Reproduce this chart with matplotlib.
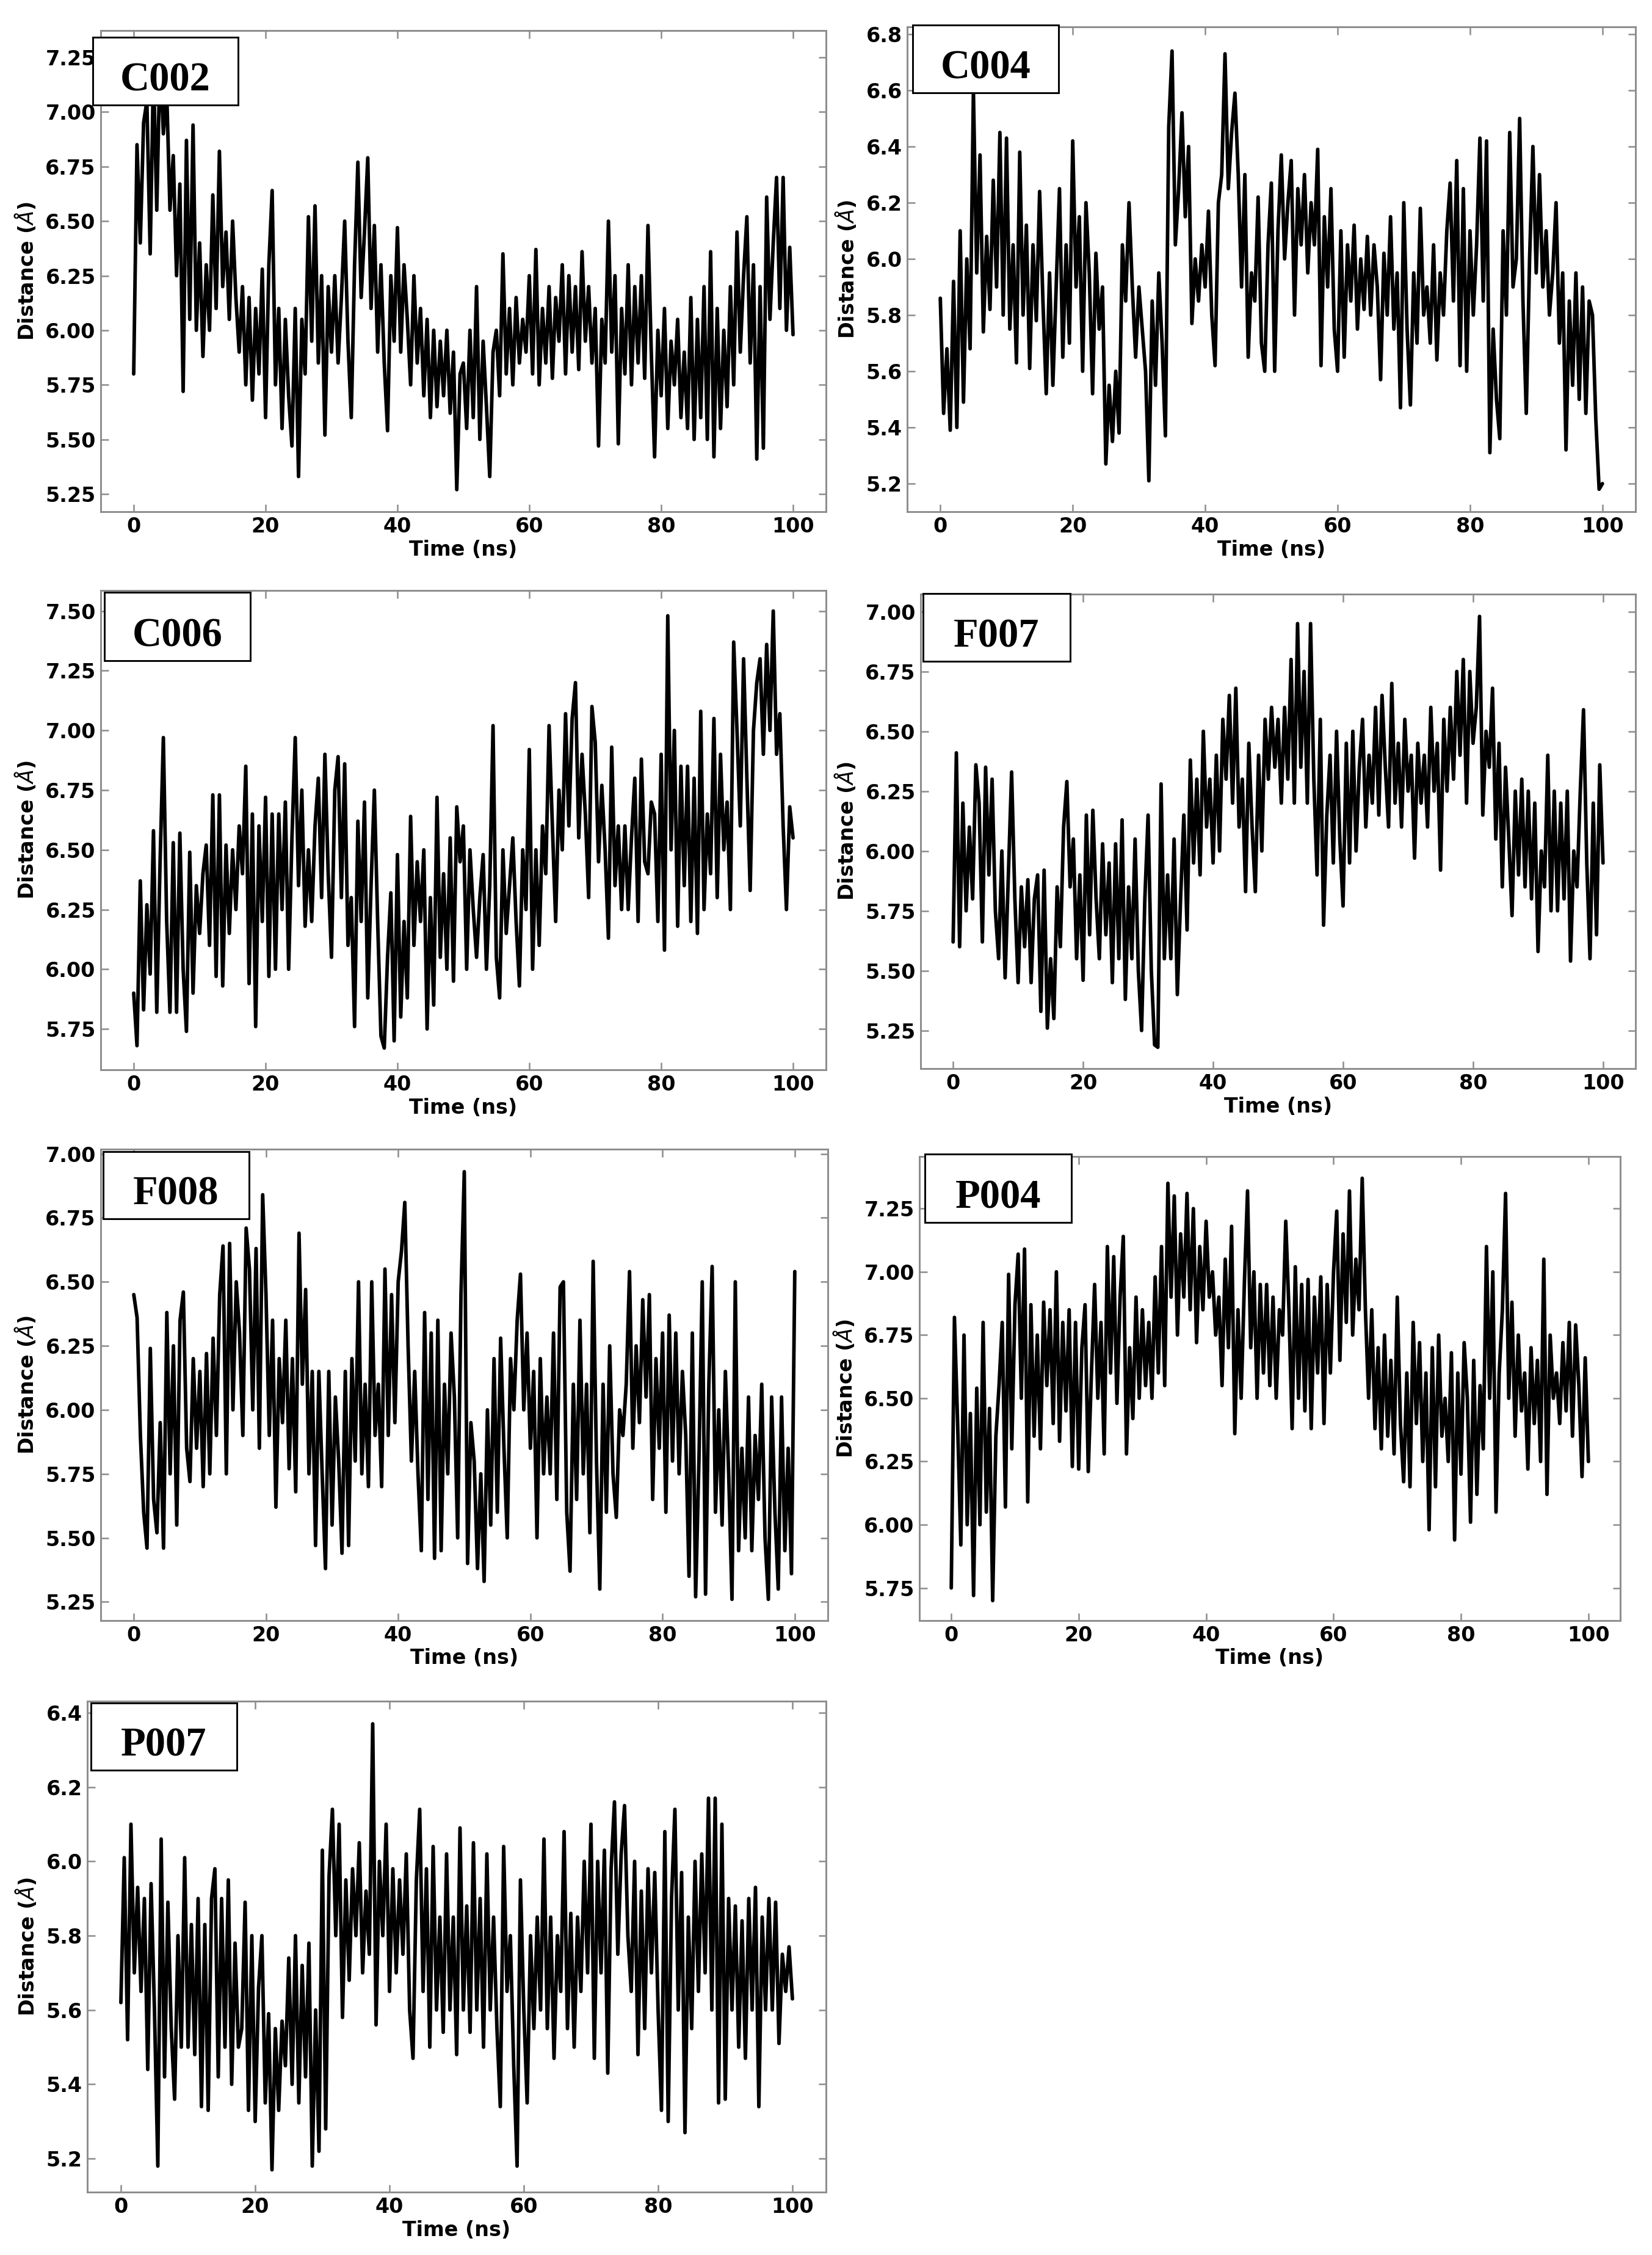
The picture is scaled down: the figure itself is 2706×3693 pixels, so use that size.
import numpy as np
import matplotlib.pyplot as plt
from matplotlib.patches import Rectangle
from matplotlib.ticker import MultipleLocator, FormatStrFormatter

# Distance (Angstrom) traces, one value every 0.5 ns from 0 to 100 ns
panel_names = ["C002", "C004", "C006", "F007", "F008", "P004", "P007"]

c002_distance = [
    5.80, 6.85, 6.40, 6.95, 7.05, 6.35, 7.20, 6.55, 7.27, 6.90, 7.10, 6.55, 6.80, 6.25, 6.67, 5.72, 6.87, 6.05, 6.94, 6.00,
    6.40, 5.88, 6.30, 6.00, 6.62, 6.10, 6.82, 6.20, 6.45, 6.05, 6.50, 6.15, 5.90, 6.20, 5.75, 6.15, 5.68, 6.10, 5.80, 6.28,
    5.60, 6.30, 6.64, 5.75, 6.10, 5.55, 6.05, 5.70, 5.47, 6.10, 5.33, 6.05, 5.80, 6.52, 5.95, 6.57, 5.85, 6.25, 5.52, 6.20,
    5.90, 6.25, 5.85, 6.15, 6.50, 5.95, 5.60, 6.30, 6.77, 6.15, 6.45, 6.79, 6.10, 6.48, 5.90, 6.30, 5.85, 5.54, 6.25, 5.95,
    6.47, 5.90, 6.30, 6.05, 5.75, 6.25, 5.85, 6.10, 5.70, 6.05, 5.60, 6.00, 5.65, 5.95, 5.70, 6.00, 5.62, 5.90, 5.27, 5.80,
    5.85, 5.55, 6.00, 5.60, 6.20, 5.50, 5.95, 5.65, 5.33, 5.90, 6.00, 5.70, 6.35, 5.80, 6.10, 5.75, 6.15, 5.85, 6.05, 5.90,
    6.25, 5.80, 6.37, 5.75, 6.10, 5.85, 6.20, 5.78, 6.15, 5.95, 6.30, 5.80, 6.25, 5.90, 6.20, 5.82, 6.36, 5.95, 6.20, 5.85,
    6.10, 5.47, 6.05, 5.85, 6.50, 5.90, 6.25, 5.48, 6.10, 5.80, 6.30, 5.75, 6.20, 5.85, 6.25, 5.78, 6.48, 5.90, 5.42, 6.00,
    5.70, 6.10, 5.55, 5.95, 5.75, 6.05, 5.60, 5.90, 5.55, 6.15, 5.50, 6.05, 5.60, 6.20, 5.50, 6.36, 5.42, 6.10, 5.55, 6.00,
    5.65, 6.20, 5.75, 6.45, 5.90, 6.25, 6.52, 5.85, 6.30, 5.41, 6.20, 5.46, 6.61, 6.05, 6.40, 6.70, 6.10, 6.70, 6.00, 6.38,
    5.98,
]

c004_distance = [
    5.86, 5.45, 5.68, 5.39, 5.92, 5.40, 6.10, 5.49, 6.00, 5.68, 6.60, 5.95, 6.37, 5.74, 6.08, 5.82, 6.28, 5.90, 6.45, 5.80,
    6.43, 5.75, 6.05, 5.63, 6.38, 5.80, 6.12, 5.61, 6.05, 5.78, 6.24, 5.85, 5.52, 5.95, 5.55, 5.90, 6.25, 5.65, 6.05, 5.70,
    6.42, 5.90, 6.15, 5.60, 6.20, 5.95, 5.52, 6.02, 5.75, 5.90, 5.27, 5.55, 5.35, 5.60, 5.38, 6.05, 5.85, 6.20, 5.90, 5.65,
    5.90, 5.75, 5.60, 5.21, 5.85, 5.55, 5.95, 5.70, 5.37, 6.47, 6.74, 6.05, 6.25, 6.52, 6.15, 6.40, 5.77, 6.00, 5.85, 6.05,
    5.90, 6.17, 5.80, 5.62, 6.20, 6.30, 6.73, 6.25, 6.45, 6.59, 6.30, 5.90, 6.30, 5.65, 5.95, 5.85, 6.22, 5.70, 5.60, 6.05,
    6.27, 5.60, 6.10, 6.37, 6.00, 6.20, 6.35, 5.80, 6.25, 6.05, 6.30, 5.95, 6.20, 6.05, 6.39, 5.62, 6.15, 5.90, 6.25, 5.75,
    5.60, 6.10, 5.65, 6.05, 5.85, 6.12, 5.75, 6.00, 5.82, 6.08, 5.80, 6.05, 5.90, 5.57, 6.02, 5.80, 6.15, 5.75, 5.95, 5.47,
    6.20, 5.75, 5.48, 5.95, 5.70, 6.18, 5.80, 5.90, 5.70, 6.05, 5.64, 5.95, 5.80, 6.10, 6.27, 5.85, 6.35, 5.62, 6.25, 5.60,
    6.10, 5.80, 6.05, 6.43, 5.85, 6.42, 5.31, 5.75, 5.50, 5.36, 6.10, 5.80, 6.45, 5.90, 6.00, 6.50, 5.85, 5.45, 6.00, 6.40,
    5.95, 6.30, 5.90, 6.10, 5.80, 5.95, 6.20, 5.70, 5.95, 5.32, 5.85, 5.55, 5.95, 5.50, 5.90, 5.45, 5.85, 5.80, 5.43, 5.18,
    5.20,
]

c006_distance = [
    5.90, 5.68, 6.37, 5.83, 6.27, 5.98, 6.58, 5.82, 6.45, 6.97, 6.20, 5.82, 6.53, 5.82, 6.57, 6.00, 5.74, 6.49, 5.90, 6.35,
    6.15, 6.40, 6.52, 6.10, 6.73, 5.97, 6.73, 5.93, 6.52, 6.15, 6.50, 6.25, 6.60, 6.40, 6.85, 5.94, 6.65, 5.76, 6.60, 6.20,
    6.72, 5.97, 6.65, 6.00, 6.65, 6.25, 6.70, 6.00, 6.55, 6.97, 6.35, 6.75, 6.18, 6.50, 6.20, 6.60, 6.80, 6.30, 6.90, 6.40,
    6.05, 6.75, 6.89, 6.30, 6.86, 6.10, 6.30, 5.76, 6.62, 6.20, 6.70, 5.88, 6.35, 6.75, 6.20, 5.72, 5.67, 6.05, 6.32, 5.70,
    6.48, 5.80, 6.20, 5.88, 6.64, 6.10, 6.45, 6.20, 6.50, 5.75, 6.30, 5.85, 6.72, 6.05, 6.40, 6.00, 6.55, 5.95, 6.68, 6.45,
    6.60, 6.00, 6.50, 6.25, 6.05, 6.30, 6.48, 6.00, 6.35, 7.02, 6.05, 5.88, 6.50, 6.15, 6.35, 6.55, 6.20, 5.93, 6.50, 6.25,
    6.92, 6.00, 6.50, 6.10, 6.60, 6.40, 7.02, 6.60, 6.20, 6.75, 6.50, 7.07, 6.60, 7.05, 7.20, 6.55, 6.90, 6.65, 6.30, 7.10,
    6.95, 6.45, 6.77, 6.50, 6.13, 6.93, 6.35, 6.60, 6.25, 6.60, 6.25, 6.55, 6.80, 6.20, 6.88, 6.45, 6.40, 6.70, 6.65, 6.20,
    6.90, 6.08, 7.48, 6.50, 7.00, 6.18, 6.85, 6.35, 6.85, 6.20, 6.80, 6.15, 7.08, 6.25, 6.65, 6.40, 7.05, 6.30, 6.90, 6.50,
    6.70, 6.25, 7.37, 7.00, 6.60, 7.30, 6.80, 6.33, 7.00, 7.20, 7.30, 6.90, 7.36, 7.00, 7.50, 6.90, 7.07, 6.60, 6.25, 6.68,
    6.55,
]

f007_distance = [
    5.62, 6.41, 5.60, 6.20, 5.75, 6.10, 5.80, 6.36, 6.20, 5.62, 6.35, 5.90, 6.30, 5.75, 5.55, 6.00, 5.47, 5.90, 6.33, 5.80,
    5.45, 5.85, 5.60, 5.88, 5.45, 5.80, 5.90, 5.33, 5.92, 5.26, 5.55, 5.30, 5.85, 5.60, 6.10, 6.29, 5.85, 6.05, 5.55, 5.90,
    5.46, 6.15, 5.65, 6.17, 5.80, 5.55, 6.03, 5.65, 5.95, 5.45, 6.03, 5.55, 6.13, 5.38, 5.85, 5.55, 6.05, 5.50, 5.25, 5.80,
    6.15, 5.50, 5.19, 5.18, 6.28, 5.55, 5.90, 5.55, 6.05, 5.40, 5.80, 6.15, 5.67, 6.38, 5.95, 6.30, 5.90, 6.50, 6.10, 6.30,
    5.95, 6.40, 6.00, 6.55, 6.30, 6.65, 6.20, 6.68, 6.10, 6.30, 5.83, 6.45, 6.10, 5.83, 6.40, 6.00, 6.55, 6.30, 6.60, 6.35,
    6.55, 6.20, 6.60, 6.30, 6.80, 6.20, 6.95, 6.35, 6.75, 6.20, 6.95, 6.30, 5.90, 6.55, 5.69, 6.15, 6.40, 5.95, 6.50, 6.05,
    5.77, 6.45, 5.95, 6.50, 6.00, 6.35, 6.55, 6.10, 6.40, 6.20, 6.60, 6.15, 6.65, 6.35, 6.10, 6.70, 6.20, 6.45, 6.10, 6.55,
    6.25, 6.40, 5.97, 6.45, 6.20, 6.40, 6.10, 6.60, 6.25, 6.45, 5.92, 6.55, 6.25, 6.60, 6.30, 6.75, 6.40, 6.80, 6.20, 6.75,
    6.45, 6.60, 6.98, 6.15, 6.50, 6.35, 6.68, 6.05, 6.45, 5.85, 6.35, 6.05, 5.73, 6.25, 5.90, 6.30, 5.85, 6.25, 5.80, 6.20,
    5.58, 6.00, 5.85, 6.40, 5.75, 6.25, 5.75, 6.20, 5.80, 6.25, 5.54, 6.00, 5.85, 6.25, 6.59, 5.95, 5.55, 6.20, 5.65, 6.36,
    5.95,
]

f008_distance = [
    6.45, 6.36, 5.90, 5.60, 5.46, 6.24, 5.65, 5.52, 5.95, 5.46, 6.38, 5.75, 6.25, 5.55, 6.35, 6.46, 5.85, 5.72, 6.20, 5.85,
    6.15, 5.70, 6.22, 5.75, 6.28, 5.90, 6.45, 6.64, 5.75, 6.65, 6.00, 6.50, 6.30, 5.90, 6.71, 6.55, 6.00, 6.63, 5.85, 6.84,
    6.45, 5.90, 6.35, 5.62, 6.20, 5.95, 6.35, 5.77, 6.20, 5.68, 6.69, 6.10, 6.47, 5.75, 6.15, 5.47, 6.15, 5.75, 5.38, 6.15,
    5.55, 6.05, 5.80, 5.44, 6.15, 5.47, 6.20, 5.80, 6.50, 5.75, 6.10, 5.70, 6.50, 5.90, 6.10, 5.70, 6.55, 5.90, 6.45, 5.95,
    6.50, 6.62, 6.81, 6.25, 5.80, 6.15, 5.75, 5.45, 6.38, 5.65, 6.30, 5.42, 6.35, 5.45, 6.10, 5.75, 6.30, 6.05, 5.50, 6.45,
    6.93, 5.40, 5.95, 5.80, 5.38, 5.75, 5.33, 6.00, 5.55, 6.20, 5.60, 6.28, 5.85, 5.50, 6.20, 6.00, 6.35, 6.53, 6.00, 6.30,
    5.85, 6.15, 5.50, 6.20, 5.75, 6.05, 5.75, 6.30, 5.65, 6.48, 6.50, 5.60, 5.37, 6.10, 5.65, 6.35, 5.75, 6.10, 5.52, 6.58,
    5.80, 5.30, 6.10, 5.60, 6.25, 5.75, 5.58, 6.00, 5.90, 6.10, 6.54, 5.85, 6.25, 5.95, 6.43, 6.05, 6.45, 5.65, 6.20, 5.85,
    6.30, 5.60, 6.37, 5.80, 6.30, 5.75, 6.15, 5.90, 5.35, 6.30, 5.27, 5.80, 6.50, 5.28, 6.10, 6.56, 5.60, 6.00, 5.55, 6.15,
    5.75, 5.26, 6.50, 5.45, 5.85, 5.50, 6.05, 5.45, 5.90, 5.65, 6.10, 5.50, 5.26, 6.05, 5.60, 5.30, 6.05, 5.45, 5.85, 5.36,
    6.54,
]

p004_distance = [
    5.75, 6.82, 6.40, 5.92, 6.75, 6.00, 6.44, 5.72, 6.54, 6.00, 6.80, 6.05, 6.46, 5.70, 6.35, 6.55, 6.80, 6.07, 6.99, 6.30,
    6.87, 7.07, 6.50, 7.09, 6.09, 6.87, 6.35, 6.75, 6.30, 6.88, 6.55, 6.85, 6.40, 7.00, 6.33, 6.80, 6.45, 6.85, 6.23, 6.80,
    6.22, 6.70, 6.87, 6.21, 6.60, 6.95, 6.50, 6.80, 6.28, 7.10, 6.60, 7.06, 6.48, 6.90, 7.14, 6.28, 6.70, 6.42, 6.90, 6.50,
    6.85, 6.55, 6.80, 6.50, 6.98, 6.60, 7.10, 6.55, 7.35, 6.90, 7.30, 6.75, 7.15, 6.90, 7.31, 6.85, 7.25, 6.72, 7.10, 6.85,
    7.20, 6.90, 7.00, 6.75, 6.90, 6.55, 7.05, 6.70, 7.18, 6.36, 6.85, 6.50, 6.95, 7.32, 6.70, 7.00, 6.50, 6.95, 6.60, 6.95,
    6.55, 6.90, 6.50, 6.85, 6.75, 7.20, 6.85, 6.38, 7.02, 6.50, 6.95, 6.45, 6.97, 6.38, 6.90, 6.60, 6.98, 6.40, 6.95, 6.60,
    7.00, 7.24, 6.65, 7.15, 6.80, 7.32, 6.75, 7.05, 6.85, 7.37, 6.85, 6.50, 6.85, 6.38, 6.70, 6.30, 6.75, 6.35, 6.65, 6.28,
    6.90, 6.40, 6.17, 6.60, 6.15, 6.80, 6.40, 6.72, 6.25, 6.60, 5.98, 6.70, 6.15, 6.75, 6.35, 6.50, 6.25, 6.68, 5.94, 6.60,
    6.20, 6.72, 6.50, 6.01, 6.65, 6.12, 6.55, 6.30, 7.10, 6.50, 7.00, 6.05, 6.60, 6.85, 7.31, 6.50, 6.88, 6.35, 6.75, 6.45,
    6.60, 6.22, 6.70, 6.40, 6.65, 6.25, 7.05, 6.12, 6.75, 6.50, 6.60, 6.40, 6.72, 6.45, 6.80, 6.35, 6.79, 6.55, 6.19, 6.66,
    6.25,
]

p007_distance = [
    5.62, 6.01, 5.52, 6.10, 5.70, 5.93, 5.65, 5.90, 5.44, 5.94, 5.60, 5.18, 6.06, 5.42, 5.89, 5.55, 5.36, 5.80, 5.50, 6.01,
    5.50, 5.83, 5.48, 5.90, 5.34, 5.83, 5.33, 5.90, 5.98, 5.42, 5.90, 5.50, 5.95, 5.40, 5.78, 5.50, 5.55, 5.89, 5.33, 5.80,
    5.30, 5.66, 5.80, 5.35, 5.59, 5.17, 5.55, 5.33, 5.57, 5.45, 5.74, 5.40, 5.80, 5.35, 5.72, 5.42, 5.78, 5.18, 5.60, 5.22,
    6.03, 5.28, 5.96, 6.14, 5.80, 6.10, 5.58, 5.95, 5.68, 5.98, 5.80, 6.05, 5.70, 5.92, 5.75, 6.37, 5.56, 6.00, 5.80, 6.10,
    5.65, 5.98, 5.70, 5.95, 5.75, 6.02, 5.60, 5.47, 5.95, 6.14, 5.65, 5.98, 5.50, 6.04, 5.60, 5.85, 5.54, 6.02, 5.60, 5.85,
    5.48, 6.09, 5.60, 5.88, 5.54, 6.05, 5.60, 5.90, 5.50, 6.02, 5.60, 5.85, 5.55, 5.34, 6.04, 5.65, 5.80, 5.45, 5.18, 5.95,
    5.60, 5.35, 5.80, 5.55, 5.85, 5.60, 6.06, 5.55, 5.85, 5.47, 5.80, 5.65, 6.08, 5.55, 5.86, 5.50, 5.85, 5.65, 6.00, 5.70,
    6.10, 5.47, 6.00, 5.70, 6.03, 5.43, 5.98, 6.16, 5.75, 6.02, 6.15, 5.80, 5.65, 6.00, 5.48, 5.92, 5.55, 5.98, 5.70, 5.97,
    5.60, 5.33, 6.08, 5.30, 5.90, 6.14, 5.60, 5.97, 5.27, 5.85, 5.55, 6.00, 5.65, 6.02, 5.70, 6.17, 5.60, 6.17, 5.35, 6.10,
    5.36, 5.90, 5.60, 5.88, 5.50, 5.84, 5.47, 5.90, 5.60, 5.93, 5.34, 5.85, 5.60, 5.90, 5.60, 5.89, 5.51, 5.75, 5.65, 5.77,
    5.63,
]

x_ticks = [0, 20, 40, 60, 80, 100]

W, H = 2706, 3693
# axes frame: left, right, top, bottom
axes_px = [
    (165, 1353, 50, 838),
    (1486, 2679, 44, 838),
    (165, 1353, 967, 1752),
    (1508, 2679, 973, 1750),
    (165, 1356, 1882, 2654),
    (1506, 2654, 1894, 2654),
    (143, 1353, 2786, 3590),
]
# name box: left, right, top, bottom
box_px = [
    (152, 390, 61, 172),
    (1495, 1734, 41, 152),
    (171, 410, 970, 1082),
    (1512, 1753, 972, 1083),
    (169, 408, 1886, 1996),
    (1515, 1755, 1890, 2002),
    (149, 388, 2789, 2899),
]
# y range, tick step and tick format per panel
y_limits = [(5.169, 7.373), (5.10, 6.826), (5.579, 7.586), (5.091, 7.073),
            (5.177, 7.018), (5.621, 7.456), (5.110, 6.431)]
y_steps = [0.25, 0.2, 0.25, 0.25, 0.25, 0.25, 0.2]
y_formats = ["%.2f", "%.1f", "%.2f", "%.2f", "%.2f", "%.2f", "%.1f"]

FRAME = "0.55"


def draw_panel(fig, values, frame, box, ylim, ystep, yfmt, name):
    # The axes are placed from the measured pixel frame
    left, right, top, bottom = frame
    ax = fig.add_axes([left / W, 1 - bottom / H, (right - left) / W, (bottom - top) / H])
    t = np.linspace(0, 100, len(values))
    # a heavy line so the trace reads as a dense band, like the original
    ax.plot(t, values, color="black", linewidth=1.4,
            solid_joinstyle="round", solid_capstyle="round")

    ax.set_xlim(-5, 105)
    ax.set_ylim(*ylim)
    ax.set_xticks(x_ticks)
    ax.yaxis.set_major_locator(MultipleLocator(ystep))
    ax.yaxis.set_major_formatter(FormatStrFormatter(yfmt))

    for spine in ax.spines.values():
        spine.set_color(FRAME)
        spine.set_linewidth(0.7)
    ax.tick_params(direction="in", top=True, right=True, length=3, width=0.6,
                   color=FRAME, labelsize=8, pad=2)
    for lab in ax.get_xticklabels() + ax.get_yticklabels():
        lab.set_fontweight("bold")

    ax.set_xlabel("Time (ns)", fontsize=8, fontweight="bold", labelpad=1)
    ax.set_ylabel(r"Distance ($\mathit{Å}$)", fontsize=8, fontweight="bold", labelpad=3)

    # Name box sits on top, partly outside the axes
    bx0, bx1, by0, by1 = box
    rect = Rectangle((bx0 / W, 1 - by1 / H), (bx1 - bx0) / W, (by1 - by0) / H,
                     transform=fig.transFigure, facecolor="white", edgecolor="black",
                     linewidth=0.7, zorder=5)
    fig.add_artist(rect)
    fig.text((bx0 + bx1) / 2 / W, 1 - (by0 + 0.79 * (by1 - by0)) / H, name,
             family="Liberation Serif", fontweight="bold", fontsize=16,
             ha="center", va="baseline", zorder=6)
    return ax


def main():
    fig = plt.figure(figsize=(W / 300, H / 300), dpi=300, facecolor="white")
    series = [c002_distance, c004_distance, c006_distance, f007_distance,
              f008_distance, p004_distance, p007_distance]
    for i, name in enumerate(panel_names):
        draw_panel(fig, series[i], axes_px[i], box_px[i], y_limits[i],
                   y_steps[i], y_formats[i], name)
    fig.savefig("out.png", dpi=300)


if __name__ == "__main__":
    main()
